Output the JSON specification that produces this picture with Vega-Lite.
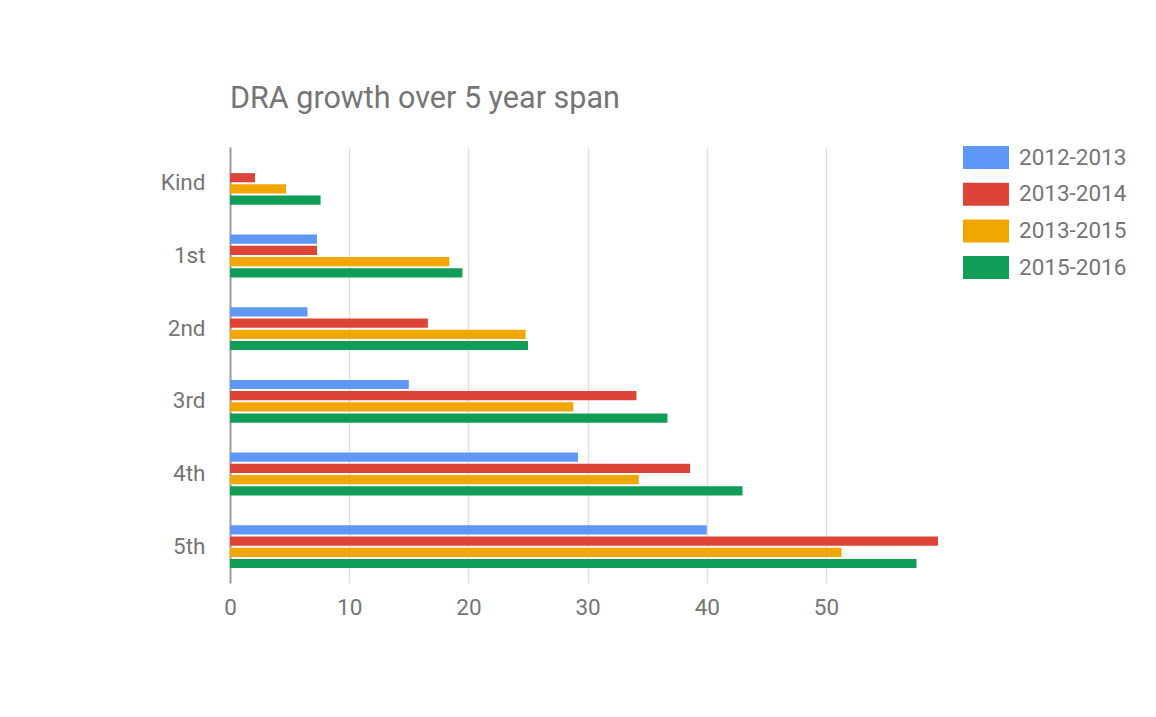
{
  "$schema": "https://vega.github.io/schema/vega-lite/v6.json",
  "width": 708,
  "height": 436,
  "autosize": {"type": "none"},
  "padding": {"left": 230, "top": 147, "right": 218, "bottom": 134},
  "background": "white",
  "title": {
    "text": "DRA growth over 5 year span",
    "anchor": "start",
    "frame": "group",
    "font": "Roboto",
    "fontSize": 30.5,
    "fontWeight": "normal",
    "color": "#757575",
    "offset": -4,
    "baseline": "alphabetic"
  },
  "data": {
    "values": [
      {"grade": "Kind", "year": "2013-2014", "value": 2.1},
      {"grade": "Kind", "year": "2013-2015", "value": 4.7},
      {"grade": "Kind", "year": "2015-2016", "value": 7.6},
      {"grade": "1st", "year": "2012-2013", "value": 7.3},
      {"grade": "1st", "year": "2013-2014", "value": 7.3},
      {"grade": "1st", "year": "2013-2015", "value": 18.4},
      {"grade": "1st", "year": "2015-2016", "value": 19.5},
      {"grade": "2nd", "year": "2012-2013", "value": 6.5},
      {"grade": "2nd", "year": "2013-2014", "value": 16.6},
      {"grade": "2nd", "year": "2013-2015", "value": 24.8},
      {"grade": "2nd", "year": "2015-2016", "value": 25.0},
      {"grade": "3rd", "year": "2012-2013", "value": 15.0},
      {"grade": "3rd", "year": "2013-2014", "value": 34.1},
      {"grade": "3rd", "year": "2013-2015", "value": 28.8},
      {"grade": "3rd", "year": "2015-2016", "value": 36.7},
      {"grade": "4th", "year": "2012-2013", "value": 29.2},
      {"grade": "4th", "year": "2013-2014", "value": 38.6},
      {"grade": "4th", "year": "2013-2015", "value": 34.3},
      {"grade": "4th", "year": "2015-2016", "value": 43.0},
      {"grade": "5th", "year": "2012-2013", "value": 40.0},
      {"grade": "5th", "year": "2013-2014", "value": 59.4},
      {"grade": "5th", "year": "2013-2015", "value": 51.3},
      {"grade": "5th", "year": "2015-2016", "value": 57.6}
    ]
  },
  "mark": {"type": "bar"},
  "encoding": {
    "y": {
      "field": "grade",
      "type": "nominal",
      "sort": ["Kind", "1st", "2nd", "3rd", "4th", "5th"],
      "scale": {"paddingInner": 0.41, "paddingOuter": 0.205},
      "axis": {
        "title": null,
        "ticks": false,
        "domain": true,
        "domainColor": "#9e9e9e",
        "domainWidth": 2,
        "labelPadding": 25,
        "labelFontSize": 22.5,
        "labelFont": "Roboto",
        "labelColor": "#757575"
      }
    },
    "x": {
      "field": "value",
      "type": "quantitative",
      "scale": {"domain": [0, 59.4], "nice": false},
      "axis": {
        "title": null,
        "values": [0, 10, 20, 30, 40, 50],
        "ticks": false,
        "domain": false,
        "grid": true,
        "gridColor": "#e0e0e0",
        "gridWidth": 1.5,
        "labelFlush": false,
        "labelPadding": 13,
        "labelFontSize": 22.5,
        "labelFont": "Roboto",
        "labelColor": "#757575"
      }
    },
    "yOffset": {
      "field": "year",
      "type": "nominal",
      "sort": ["2012-2013", "2013-2014", "2013-2015", "2015-2016"],
      "scale": {"domain": ["2012-2013", "2013-2014", "2013-2015", "2015-2016"], "paddingInner": 0.18}
    },
    "color": {
      "field": "year",
      "type": "nominal",
      "scale": {
        "domain": ["2012-2013", "2013-2014", "2013-2015", "2015-2016"],
        "range": ["#5e97f6", "#db4437", "#f2a600", "#0f9d58"]
      },
      "legend": {
        "title": null,
        "orient": "none",
        "legendX": 733,
        "legendY": -12.5,
        "padding": 0,
        "symbolType": "M-1,-0.5h2v1h-2z",
        "symbolSize": 2116,
        "symbolStrokeWidth": 0,
        "symbolOpacity": 1,
        "labelFontSize": 22.5,
        "labelFont": "Roboto",
        "labelColor": "#757575",
        "labelOffset": 10,
        "rowPadding": 1.7
      }
    }
  },
  "config": {"view": {"stroke": null}}
}
